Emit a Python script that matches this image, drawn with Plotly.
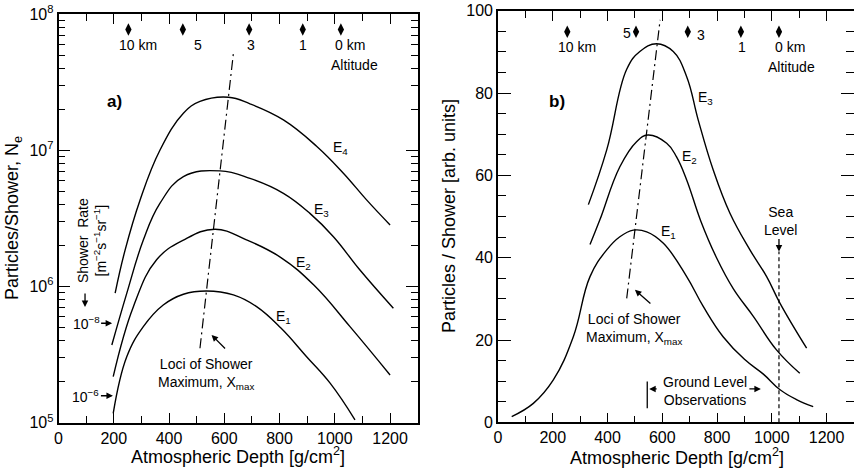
import plotly.graph_objects as go

FONT = "Liberation Sans, Arial, Helvetica, sans-serif"
W, H = 854, 474

# ---------------- Panel a) : log scale, particles per shower ----------------
a_E1_x = [198, 247, 307, 379, 452, 536, 633, 717, 805, 898, 983, 1073]
a_E1_y = [1.17e5, 3.05e5, 5.07e5, 7.31e5, 8.77e5, 9.27e5, 8.67e5, 7.11e5, 4.95e5, 3.05e5, 1.95e5, 1.05e5]
a_E2_x = [198, 271, 355, 452, 566, 680, 805, 925, 1055, 1200]
a_E2_y = [2.18e5, 7.11e5, 1.57e6, 2.19e6, 2.63e6, 2.2e6, 1.63e6, 1.02e6, 5.07e5, 2.24e5]
a_E3_x = [193, 247, 307, 367, 452, 585, 693, 814, 910, 995, 1091, 1212]
a_E3_y = [3.72e5, 8.9e5, 2.19e6, 4.07e6, 6.4e6, 7.05e6, 6.22e6, 4.83e6, 3.44e6, 2.32e6, 1.32e6, 6.92e5]
a_E4_x = [205, 241, 295, 367, 452, 512, 615, 693, 814, 934, 1031, 1115, 1200]
a_E4_y = [8.95e5, 1.85e6, 4.3e6, 1.0e7, 1.87e7, 2.28e7, 2.45e7, 2.19e7, 1.67e7, 1.07e7, 6.78e6, 4.32e6, 2.83e6]
a_xmax_x = [512, 633]
a_xmax_y = [3.52e5, 5.15e7]
a_alt_depth = [253, 450, 690, 884, 1022]
a_alt_level = 7.7e7
a_alt_labels = ["10 km", "5", "3", "1", "0 km"]
a_alt_label_x = [286, 506, 696, 884, 1055]

# ---------------- Panel b) : linear scale, arbitrary units ----------------
b_E1_x = [50, 129, 202, 275, 336, 397, 445, 494, 543, 604, 689, 750, 822, 900, 969, 1030, 1090, 1151]
b_E1_y = [1.4, 4.6, 10.3, 20.8, 35.4, 41.9, 45.1, 46.7, 46.3, 43.5, 35.4, 28.1, 20.8, 15.3, 11.7, 7.9, 5.5, 3.8]
b_E2_x = [336, 372, 445, 506, 547, 616, 652, 689, 740, 798, 859, 933, 1017, 1102]
b_E2_y = [43.2, 49.2, 62.1, 68.2, 69.8, 67.8, 64.5, 58.9, 49.0, 40.0, 32.5, 25.7, 17.6, 11.9]
b_E3_x = [330, 397, 470, 518, 579, 640, 689, 731, 786, 847, 920, 981, 1030, 1127]
b_E3_y = [52.9, 66.2, 85.8, 90.1, 92.0, 90.1, 84.0, 73.5, 61.3, 50.8, 41.9, 35.4, 28.9, 18.0]
b_xmax_x = [470, 592]
b_xmax_y = [30.1, 97.8]
b_alt_depth = [253, 504, 693, 887, 1026]
b_alt_level = 94.9
b_alt_labels = ["10 km", "5", "3", "1", "0 km"]
b_alt_label_x = [287, 470, 740, 890, 1066]
b_alt_label_y = [91.1, 94.5, 94.1, 91.1, 91.1]
sea_level_depth = 1026
sea_level_top = 41.5
ground_obs_start = 545

LINE = dict(color="black", width=1.4)
DASHDOT = dict(color="black", width=1.2, dash="10px,4px,2px,4px")

fig = go.Figure()
for xs, ys in [(a_E1_x, a_E1_y), (a_E2_x, a_E2_y), (a_E3_x, a_E3_y), (a_E4_x, a_E4_y)]:
    fig.add_trace(go.Scatter(x=xs, y=ys, mode="lines", line=dict(**LINE, shape="spline", smoothing=1.2),
                             xaxis="x", yaxis="y", hoverinfo="skip"))
fig.add_trace(go.Scatter(x=a_xmax_x, y=a_xmax_y, mode="lines", line=DASHDOT, xaxis="x", yaxis="y"))
fig.add_trace(go.Scatter(x=a_alt_depth, y=[a_alt_level] * len(a_alt_depth), mode="markers",
                         marker=dict(symbol="diamond-tall", size=9, color="black"), xaxis="x", yaxis="y"))

for xs, ys in [(b_E1_x, b_E1_y), (b_E2_x, b_E2_y), (b_E3_x, b_E3_y)]:
    fig.add_trace(go.Scatter(x=xs, y=ys, mode="lines", line=dict(**LINE, shape="spline", smoothing=1.2),
                             xaxis="x2", yaxis="y2", hoverinfo="skip"))
fig.add_trace(go.Scatter(x=b_xmax_x, y=b_xmax_y, mode="lines", line=DASHDOT, xaxis="x2", yaxis="y2"))
fig.add_trace(go.Scatter(x=b_alt_depth, y=[b_alt_level] * len(b_alt_depth), mode="markers",
                         marker=dict(symbol="diamond-tall", size=9, color="black"), xaxis="x2", yaxis="y2"))
fig.add_trace(go.Scatter(x=[sea_level_depth, sea_level_depth], y=[0, sea_level_top], mode="lines",
                         line=dict(color="black", width=1.2, dash="4px,3px"), xaxis="x2", yaxis="y2"))
fig.add_trace(go.Scatter(x=[ground_obs_start, ground_obs_start], y=[3.4, 9.9], mode="lines",
                         line=dict(color="black", width=1.3), xaxis="x2", yaxis="y2"))

tickfont = dict(family=FONT, size=16, color="black")
xcommon = dict(range=[0, 1300], tickmode="linear", tick0=0, dtick=200, ticks="inside", ticklen=10,
               tickwidth=1.3, tickcolor="black", showline=True, linewidth=1.6, linecolor="black",
               mirror="ticks", showgrid=False, zeroline=False, tickfont=tickfont,
               minor=dict(dtick=100, tick0=0, ticks="inside", ticklen=7, tickwidth=1.3, tickcolor="black",
                          showgrid=False))

minor_log = [m * 10 ** k for k in (5, 6, 7) for m in range(2, 10)]

fig.update_layout(
    width=W, height=H, margin=dict(l=0, r=0, t=0, b=0, pad=0, autoexpand=False),
    paper_bgcolor="white", plot_bgcolor="white", showlegend=False,
    font=dict(family=FONT, color="black", size=14),
    xaxis=dict(domain=[58.5 / W, 417.7 / W], anchor="y", **xcommon),
    yaxis=dict(domain=[1 - 422.7 / H, 1 - 14 / H], anchor="x", type="log", range=[5, 8],
               tickmode="array", tickvals=[1e5, 1e6, 1e7, 1e8],
               ticktext=["10<sup>5</sup>", "10<sup>6</sup>", "10<sup>7</sup>", "10<sup>8</sup>"],
               ticks="inside", ticklen=12, tickwidth=1.3, tickcolor="black", showline=True, linewidth=1.6,
               linecolor="black", mirror="ticks", showgrid=False, zeroline=False, tickfont=tickfont,
               minor=dict(tickmode="array", tickvals=minor_log, ticks="inside", ticklen=7, tickwidth=1.3,
                          tickcolor="black", showgrid=False)),
    xaxis2=dict(domain=[498 / W, 1.0], anchor="y2", **xcommon),
    yaxis2=dict(domain=[1 - 422.3 / H, 1 - 10.8 / H], anchor="x2", range=[0, 100], tickmode="linear",
                tick0=0, dtick=20, ticks="inside", ticklen=13, tickwidth=1.3, tickcolor="black",
                showline=True, linewidth=1.6, linecolor="black", mirror="ticks", showgrid=False,
                zeroline=False, tickfont=tickfont,
                minor=dict(dtick=5, tick0=0, ticks="inside", ticklen=8, tickwidth=1.3, tickcolor="black",
                           showgrid=False)),
)

ann = []


def txt(x, y, text, xref="x", yref="y", size=14, **kw):
    d = dict(x=x, y=y, xref=xref, yref=yref, text=text, showarrow=False, xanchor="center",
             yanchor="middle", font=dict(family=FONT, size=size, color="black"))
    d.update(kw)
    ann.append(d)


def arrow(x, y, ax, ay, xref="x", yref="y", text="", size=14):
    ann.append(dict(x=x, y=y, xref=xref, yref=yref, ax=ax, ay=ay, text=text, showarrow=True,
                    arrowhead=2, arrowsize=1.0, arrowwidth=1.3, arrowcolor="black",
                    font=dict(family=FONT, size=size, color="black")))


# axis titles
txt(238 / W, 1 - 455 / H, "Atmospheric Depth [g/cm<sup>2</sup>]", "paper", "paper", size=18)
txt(677 / W, 1 - 456 / H, "Atmospheric Depth [g/cm<sup>2</sup>]", "paper", "paper", size=18)
txt(14 / W, 1 - 218 / H, "Particles/Shower, N<sub>e</sub>", "paper", "paper", size=18, textangle=-90)
txt(449 / W, 1 - 216 / H, "Particles / Shower [arb. units]", "paper", "paper", size=18, textangle=-90)

# panel a annotations (y in log10 units)
txt(204, 7.357, "<b>a)</b>", size=17)
txt(1019, 7.015, "E<sub>4</sub>")
txt(953, 6.562, "E<sub>3</sub>")
txt(886, 6.170, "E<sub>2</sub>")
txt(814, 5.778, "E<sub>1</sub>")
for lx, lab in zip(a_alt_label_x, a_alt_labels):
    txt(lx, 7.772, lab)
txt(1071, 7.625, "Altitude")
txt(534, 5.36, "Loci of Shower<br>Maximum, X<sub>max</sub>")
arrow(554, 5.644, 15, 15)
arrow(194, 5.730, -26, 0, text="10<sup>−8</sup>")
arrow(197, 5.198, -27, 0, text="10<sup>−6</sup>")
arrow(96, 5.85, 0, -15)
txt(121, 6.34, "Shower  Rate<br>[m<sup>−2</sup>s<sup>−1</sup>sr<sup>−1</sup>]", textangle=-90)

# panel b annotations
txt(214, 77.9, "<b>b)</b>", "x2", "y2", size=17)
txt(756, 78.7, "E<sub>3</sub>", "x2", "y2")
txt(701, 64.5, "E<sub>2</sub>", "x2", "y2")
txt(622, 46.3, "E<sub>1</sub>", "x2", "y2")
for lx, ly, lab in zip(b_alt_label_x, b_alt_label_y, b_alt_labels):
    txt(lx, ly, lab, "x2", "y2")
txt(1072, 86.3, "Altitude", "x2", "y2")
txt(497, 22.7, "Loci of Shower<br>Maximum, X<sub>max</sub>", "x2", "y2")
arrow(500, 32.2, 17, 15, "x2", "y2")
txt(1030, 48.9, "Sea<br>Level", "x2", "y2")
arrow(sea_level_depth, sea_level_top, 0, -14, "x2", "y2")
txt(756, 7.7, "Ground Level<br>Observations", "x2", "y2")
arrow(552, 8.1, 9, 0, "x2", "y2")
arrow(960, 8.1, -13, 0, "x2", "y2")

fig.update_layout(annotations=ann)
fig.write_html("out.html")
